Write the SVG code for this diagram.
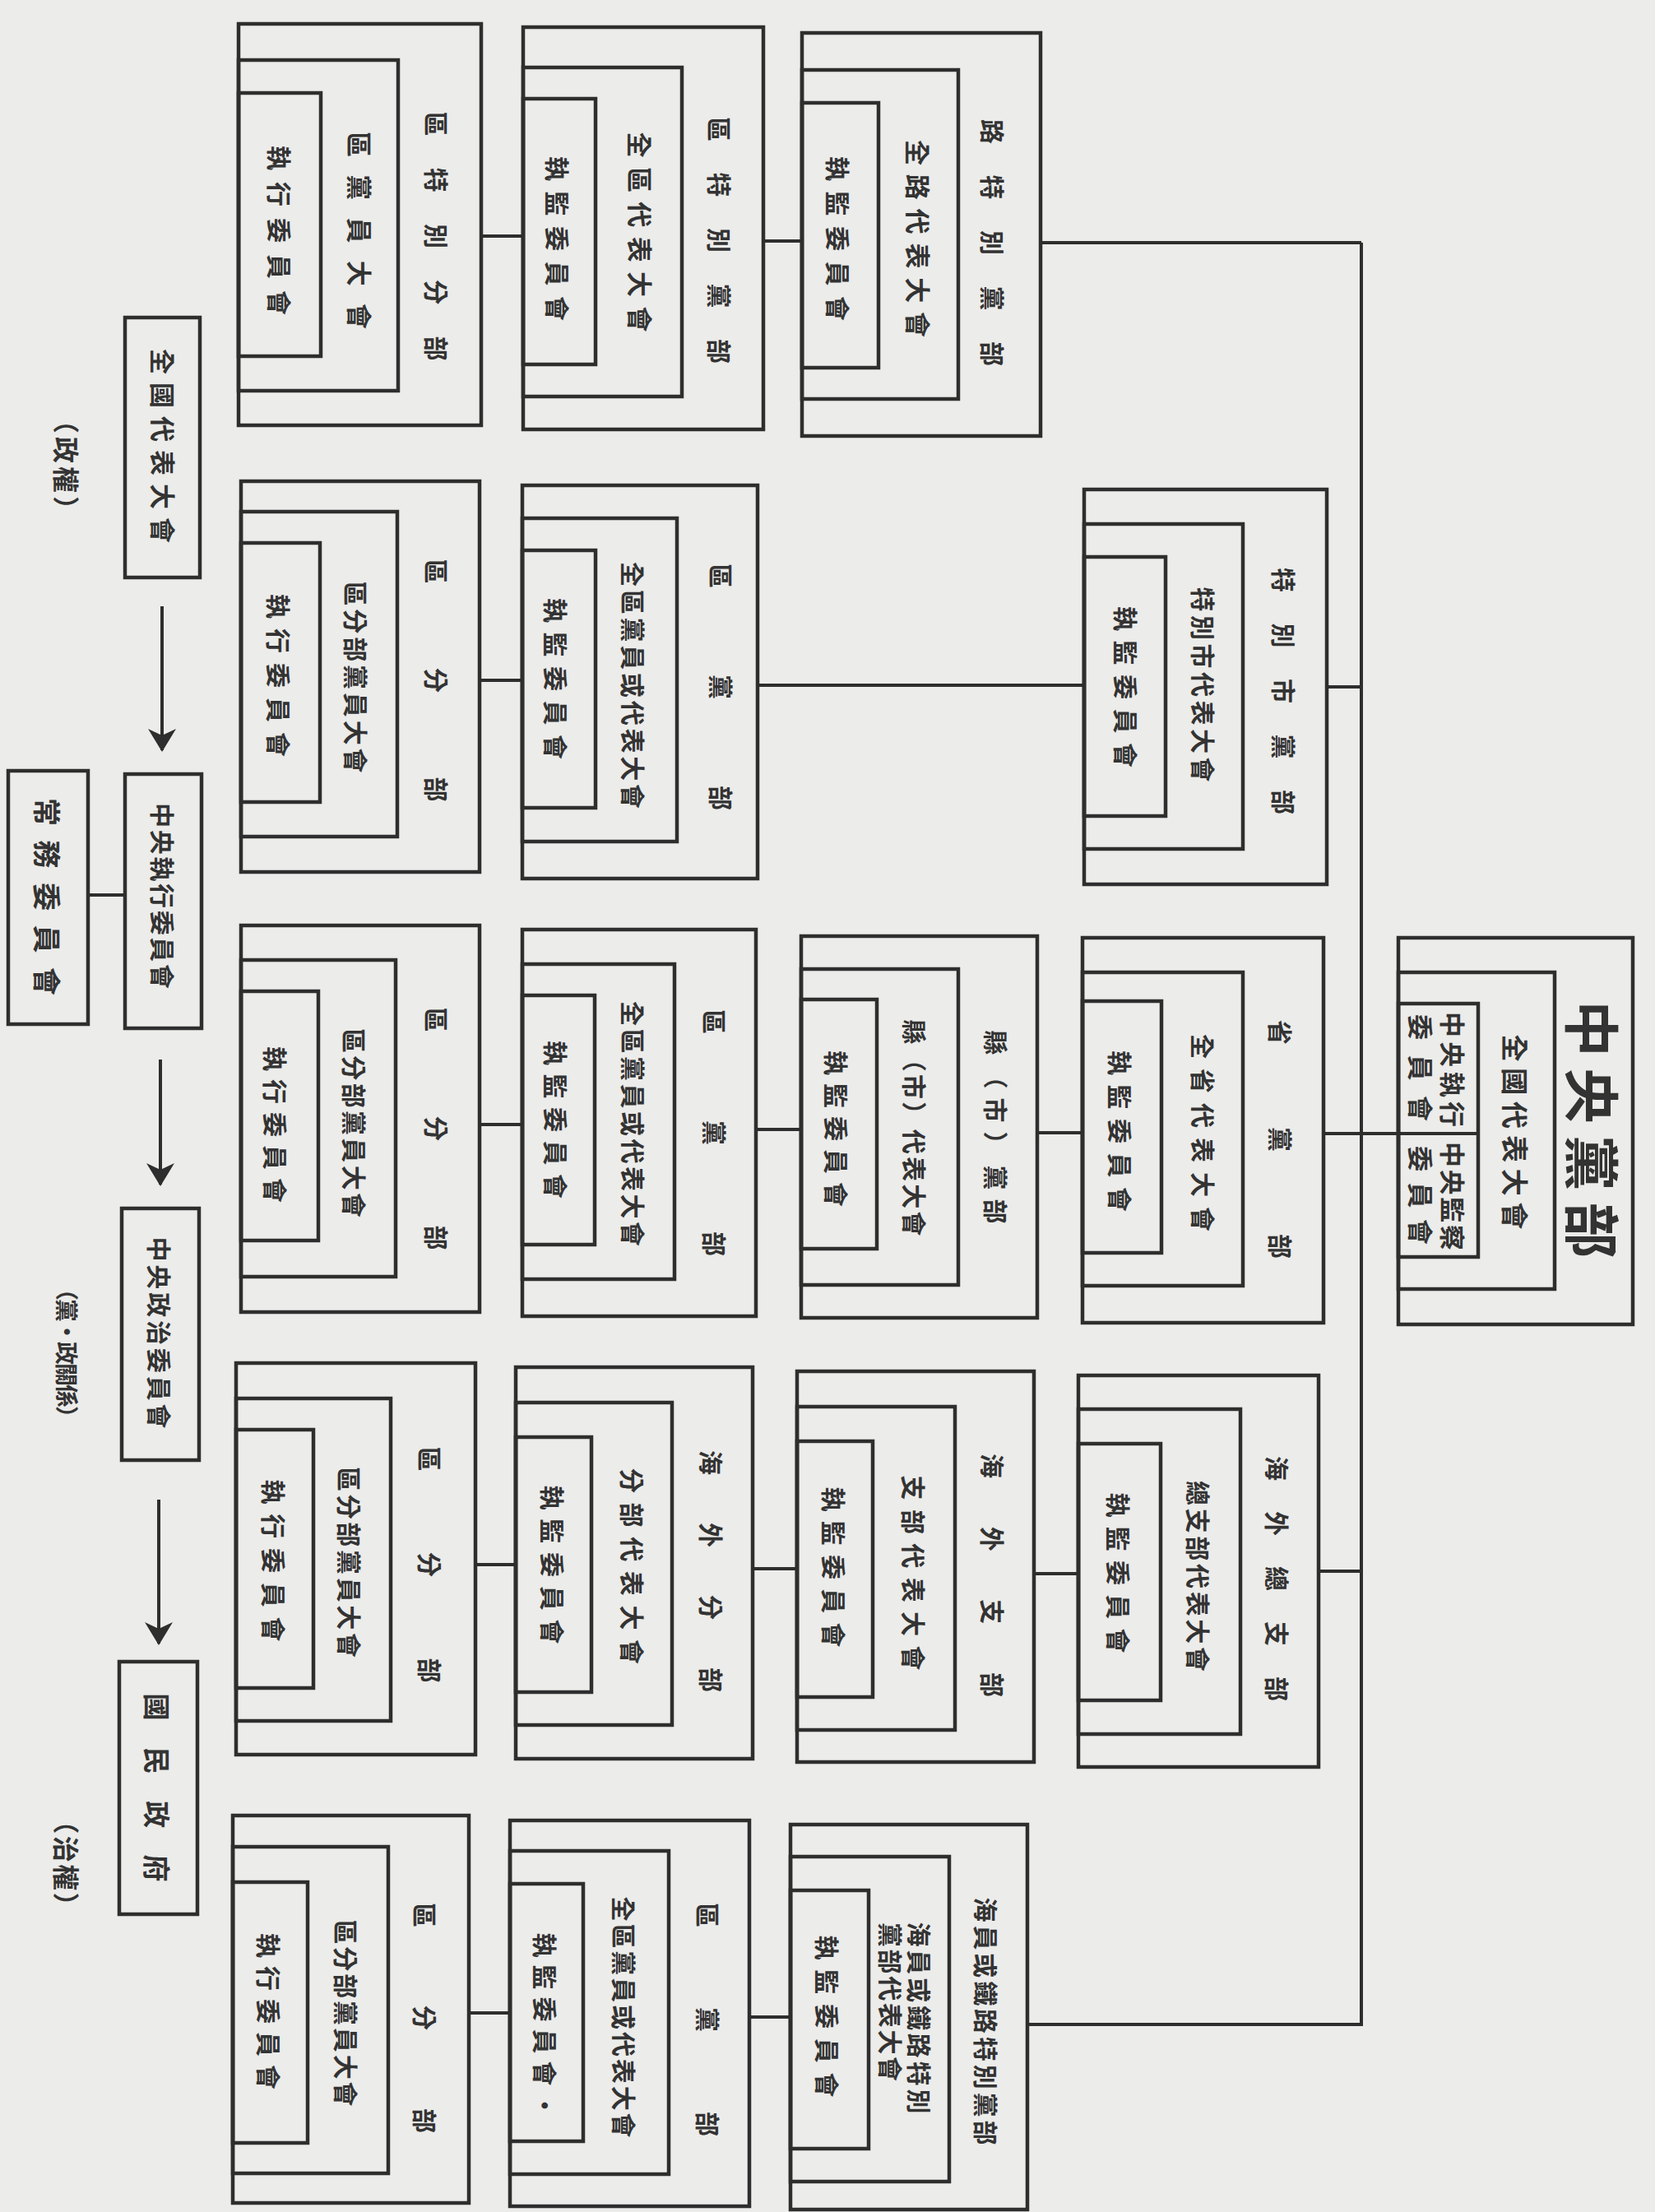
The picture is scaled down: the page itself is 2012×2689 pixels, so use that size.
<svg xmlns="http://www.w3.org/2000/svg" width="2012" height="2689" viewBox="0 0 2012 2689">
<style>
.bg{fill:#ececea}
.b{fill:none;stroke:#2e2e2e;stroke-width:4.5}
.t{font-family:"Noto Sans CJK TC","Noto Sans CJK SC",sans-serif;font-weight:700;fill:#333;text-anchor:middle;dominant-baseline:central}
.s{font-family:"Noto Sans CJK TC","Noto Sans CJK SC",sans-serif;font-weight:700;fill:#333;text-anchor:start;dominant-baseline:central}
.c line{stroke:#2e2e2e;stroke-width:4}
</style>
<defs>
<marker id="ah2" markerWidth="28" markerHeight="34" refX="26" refY="17" orient="auto" markerUnits="userSpaceOnUse" viewBox="0 0 28 34">
<path d="M0,0 L28,17 L0,34 L8,17 z" fill="#2e2e2e"/>
</marker>
</defs>
<rect class="bg" x="0" y="0" width="2012" height="2689"/>

<g id="connectors" class="c">
<line x1="1655" y1="295" x2="1655" y2="2463"/>
<line x1="1265" y1="295" x2="1655" y2="295"/>
<line x1="585" y1="287" x2="636" y2="287"/>
<line x1="928" y1="293" x2="975" y2="293"/>
<line x1="583" y1="827" x2="635" y2="827"/>
<line x1="921" y1="833" x2="1318" y2="833"/>
<line x1="1613" y1="835" x2="1655" y2="835"/>
<line x1="583" y1="1367" x2="635" y2="1367"/>
<line x1="919" y1="1373" x2="974" y2="1373"/>
<line x1="1261" y1="1377" x2="1316" y2="1377"/>
<line x1="1609" y1="1378" x2="1797" y2="1378"/>
<line x1="578" y1="1902" x2="627" y2="1902"/>
<line x1="915" y1="1907" x2="969" y2="1907"/>
<line x1="1257" y1="1913" x2="1311" y2="1913"/>
<line x1="1603" y1="1910" x2="1655" y2="1910"/>
<line x1="570" y1="2447" x2="620" y2="2447"/>
<line x1="911" y1="2452" x2="961" y2="2452"/>
<line x1="1249" y1="2461" x2="1655" y2="2461"/>
<line x1="107" y1="1088" x2="152" y2="1088"/>
<line x1="197" y1="737" x2="197" y2="912" marker-end="url(#ah2)"/>
<line x1="195" y1="1288" x2="195" y2="1440" marker-end="url(#ah2)"/>
<line x1="193" y1="1823" x2="193" y2="1998" marker-end="url(#ah2)"/>
</g>

<g id="central">
<rect class="b" x="1700" y="1140" width="285" height="470"/>
<rect class="b" x="1700" y="1182" width="190" height="385"/>
<rect class="b" x="1700" y="1220" width="97" height="308"/>
<text class="t" transform="translate(1938,1373) rotate(90)" font-size="68" textLength="313" lengthAdjust="spacing">中央黨部</text>
<text class="t" transform="translate(1843,1376) rotate(90)" font-size="33" textLength="237" lengthAdjust="spacing">全國代表大會</text>
<text class="s" transform="translate(1767,1230) rotate(90)" font-size="31" textLength="140" lengthAdjust="spacing">中央執行</text>
<text class="s" transform="translate(1728,1233) rotate(90)" font-size="31" textLength="130" lengthAdjust="spacing">委員會</text>
<text class="s" transform="translate(1767,1388) rotate(90)" font-size="31" textLength="132" lengthAdjust="spacing">中央監察</text>
<text class="s" transform="translate(1728,1393) rotate(90)" font-size="31" textLength="120" lengthAdjust="spacing">委員會</text>
</g>

<g id="r1-special-district-subbranch">
<rect class="b" x="290" y="29" width="295" height="488"/>
<rect class="b" x="290" y="73" width="194" height="402"/>
<rect class="b" x="290" y="113" width="100" height="320"/>
<text class="t" transform="translate(532,287) rotate(90)" font-size="30" textLength="303" lengthAdjust="spacing">區特別分部</text>
<text class="t" transform="translate(438,280) rotate(90)" font-size="31" textLength="240" lengthAdjust="spacing">區黨員大會</text>
<text class="t" transform="translate(341,280) rotate(90)" font-size="30" textLength="206" lengthAdjust="spacing">執行委員會</text>
</g>
<g id="r1-special-district-branch">
<rect class="b" x="636" y="33" width="292" height="489"/>
<rect class="b" x="636" y="82" width="193" height="400"/>
<rect class="b" x="636" y="120" width="88" height="323"/>
<text class="t" transform="translate(876,292) rotate(90)" font-size="30" textLength="300" lengthAdjust="spacing">區特別黨部</text>
<text class="t" transform="translate(779,282) rotate(90)" font-size="31" textLength="243" lengthAdjust="spacing">全區代表大會</text>
<text class="t" transform="translate(679,290) rotate(90)" font-size="30" textLength="200" lengthAdjust="spacing">執監委員會</text>
</g>
<g id="r1-special-branch">
<rect class="b" x="975" y="40" width="290" height="490"/>
<rect class="b" x="975" y="85" width="190" height="400"/>
<rect class="b" x="975" y="125" width="93" height="322"/>
<text class="t" transform="translate(1208,295) rotate(90)" font-size="30" textLength="300" lengthAdjust="spacing">路特別黨部</text>
<text class="t" transform="translate(1117,290) rotate(90)" font-size="31" textLength="240" lengthAdjust="spacing">全路代表大會</text>
<text class="t" transform="translate(1020,290) rotate(90)" font-size="30" textLength="200" lengthAdjust="spacing">執監委員會</text>
</g>

<g id="r2-subbranch">
<rect class="b" x="293" y="585" width="290" height="475"/>
<rect class="b" x="293" y="622" width="190" height="395"/>
<rect class="b" x="293" y="660" width="96" height="315"/>
<text class="t" transform="translate(532,827) rotate(90)" font-size="30" textLength="295" lengthAdjust="spacing">區分部</text>
<text class="t" transform="translate(434,823) rotate(90)" font-size="30" textLength="233" lengthAdjust="spacing">區分部黨員大會</text>
<text class="t" transform="translate(340,821) rotate(90)" font-size="30" textLength="198" lengthAdjust="spacing">執行委員會</text>
</g>
<g id="r2-district">
<rect class="b" x="635" y="590" width="286" height="478"/>
<rect class="b" x="635" y="630" width="188" height="393"/>
<rect class="b" x="635" y="669" width="89" height="313"/>
<text class="t" transform="translate(878,835) rotate(90)" font-size="30" textLength="300" lengthAdjust="spacing">區黨部</text>
<text class="t" transform="translate(771,833) rotate(90)" font-size="30" textLength="300" lengthAdjust="spacing">全區黨員或代表大會</text>
<text class="t" transform="translate(677,825) rotate(90)" font-size="30" textLength="196" lengthAdjust="spacing">執監委員會</text>
</g>
<g id="r2-special-city">
<rect class="b" x="1318" y="595" width="295" height="480"/>
<rect class="b" x="1318" y="637" width="193" height="395"/>
<rect class="b" x="1318" y="677" width="99" height="315"/>
<text class="t" transform="translate(1562,840) rotate(90)" font-size="30" textLength="300" lengthAdjust="spacing">特別市黨部</text>
<text class="t" transform="translate(1464,832) rotate(90)" font-size="30" textLength="237" lengthAdjust="spacing">特別市代表大會</text>
<text class="t" transform="translate(1370,835) rotate(90)" font-size="30" textLength="196" lengthAdjust="spacing">執監委員會</text>
</g>

<g id="r3-subbranch">
<rect class="b" x="293" y="1125" width="290" height="470"/>
<rect class="b" x="293" y="1167" width="188" height="385"/>
<rect class="b" x="293" y="1205" width="94" height="303"/>
<text class="t" transform="translate(532,1372) rotate(90)" font-size="30" textLength="295" lengthAdjust="spacing">區分部</text>
<text class="t" transform="translate(432,1365) rotate(90)" font-size="30" textLength="230" lengthAdjust="spacing">區分部黨員大會</text>
<text class="t" transform="translate(336,1367) rotate(90)" font-size="30" textLength="190" lengthAdjust="spacing">執行委員會</text>
</g>
<g id="r3-district">
<rect class="b" x="635" y="1130" width="284" height="470"/>
<rect class="b" x="635" y="1172" width="185" height="383"/>
<rect class="b" x="635" y="1210" width="88" height="303"/>
<text class="t" transform="translate(870,1377) rotate(90)" font-size="30" textLength="300" lengthAdjust="spacing">區黨部</text>
<text class="t" transform="translate(771,1366) rotate(90)" font-size="30" textLength="298" lengthAdjust="spacing">全區黨員或代表大會</text>
<text class="t" transform="translate(677,1361) rotate(90)" font-size="30" textLength="192" lengthAdjust="spacing">執監委員會</text>
</g>
<g id="r3-county">
<rect class="b" x="974" y="1138" width="287" height="464"/>
<rect class="b" x="974" y="1178" width="191" height="384"/>
<rect class="b" x="974" y="1215" width="92" height="303"/>
<text class="t" transform="translate(1212,1370) rotate(90)" font-size="30" textLength="235" lengthAdjust="spacing">縣（市）黨部</text>
<text class="t" transform="translate(1113,1371) rotate(90)" font-size="30" textLength="263" lengthAdjust="spacing">縣（市）代表大會</text>
<text class="t" transform="translate(1018,1372) rotate(90)" font-size="30" textLength="190" lengthAdjust="spacing">執監委員會</text>
</g>
<g id="r3-province">
<rect class="b" x="1316" y="1140" width="293" height="468"/>
<rect class="b" x="1316" y="1182" width="195" height="381"/>
<rect class="b" x="1316" y="1217" width="96" height="306"/>
<text class="t" transform="translate(1558,1385) rotate(90)" font-size="30" textLength="290" lengthAdjust="spacing">省黨部</text>
<text class="t" transform="translate(1464,1377) rotate(90)" font-size="30" textLength="240" lengthAdjust="spacing">全省代表大會</text>
<text class="t" transform="translate(1363,1375) rotate(90)" font-size="30" textLength="196" lengthAdjust="spacing">執監委員會</text>
</g>

<g id="r4-subbranch">
<rect class="b" x="287" y="1657" width="291" height="476"/>
<rect class="b" x="287" y="1700" width="188" height="392"/>
<rect class="b" x="287" y="1738" width="94" height="314"/>
<text class="t" transform="translate(524,1902) rotate(90)" font-size="30" textLength="287" lengthAdjust="spacing">區分部</text>
<text class="t" transform="translate(426,1899) rotate(90)" font-size="30" textLength="232" lengthAdjust="spacing">區分部黨員大會</text>
<text class="t" transform="translate(334,1897) rotate(90)" font-size="30" textLength="197" lengthAdjust="spacing">執行委員會</text>
</g>
<g id="r4-overseas-sub">
<rect class="b" x="627" y="1662" width="288" height="476"/>
<rect class="b" x="627" y="1705" width="190" height="392"/>
<rect class="b" x="627" y="1747" width="92" height="310"/>
<text class="t" transform="translate(866,1910) rotate(90)" font-size="30" textLength="294" lengthAdjust="spacing">海外分部</text>
<text class="t" transform="translate(770,1904) rotate(90)" font-size="30" textLength="238" lengthAdjust="spacing">分部代表大會</text>
<text class="t" transform="translate(673,1902) rotate(90)" font-size="30" textLength="193" lengthAdjust="spacing">執監委員會</text>
</g>
<g id="r4-overseas-branch">
<rect class="b" x="969" y="1667" width="288" height="475"/>
<rect class="b" x="969" y="1710" width="192" height="393"/>
<rect class="b" x="969" y="1752" width="92" height="311"/>
<text class="t" transform="translate(1208,1915) rotate(90)" font-size="30" textLength="296" lengthAdjust="spacing">海外支部</text>
<text class="t" transform="translate(1112,1912) rotate(90)" font-size="30" textLength="237" lengthAdjust="spacing">支部代表大會</text>
<text class="t" transform="translate(1015,1905) rotate(90)" font-size="30" textLength="195" lengthAdjust="spacing">執監委員會</text>
</g>
<g id="r4-overseas-general">
<rect class="b" x="1311" y="1672" width="292" height="476"/>
<rect class="b" x="1311" y="1713" width="197" height="395"/>
<rect class="b" x="1311" y="1755" width="100" height="312"/>
<text class="t" transform="translate(1554,1919) rotate(90)" font-size="30" textLength="298" lengthAdjust="spacing">海外總支部</text>
<text class="t" transform="translate(1458,1916) rotate(90)" font-size="30" textLength="232" lengthAdjust="spacing">總支部代表大會</text>
<text class="t" transform="translate(1361,1912) rotate(90)" font-size="30" textLength="195" lengthAdjust="spacing">執監委員會</text>
</g>

<g id="r5-subbranch">
<rect class="b" x="283" y="2207" width="287" height="471"/>
<rect class="b" x="283" y="2245" width="189" height="397"/>
<rect class="b" x="283" y="2288" width="91" height="317"/>
<text class="t" transform="translate(518,2453) rotate(90)" font-size="30" textLength="280" lengthAdjust="spacing">區分部</text>
<text class="t" transform="translate(422,2447) rotate(90)" font-size="30" textLength="227" lengthAdjust="spacing">區分部黨員大會</text>
<text class="t" transform="translate(328,2445) rotate(90)" font-size="30" textLength="190" lengthAdjust="spacing">執行委員會</text>
</g>
<g id="r5-district">
<rect class="b" x="620" y="2213" width="291" height="469"/>
<rect class="b" x="620" y="2250" width="193" height="393"/>
<rect class="b" x="620" y="2290" width="89" height="313"/>
<text class="t" transform="translate(862,2455) rotate(90)" font-size="30" textLength="284" lengthAdjust="spacing">區黨部</text>
<text class="t" transform="translate(760,2452) rotate(90)" font-size="30" textLength="293" lengthAdjust="spacing">全區黨員或代表大會</text>
<text class="t" transform="translate(664,2462) rotate(90)" font-size="30" textLength="225" lengthAdjust="spacing">執監委員會・</text>
</g>
<g id="r5-seamen-railway">
<rect class="b" x="961" y="2218" width="288" height="468"/>
<rect class="b" x="961" y="2257" width="193" height="395"/>
<rect class="b" x="961" y="2298" width="95" height="314"/>
<text class="t" transform="translate(1200,2457) rotate(90)" font-size="30" textLength="301" lengthAdjust="spacing">海員或鐵路特別黨部</text>
<text class="t" transform="translate(1119,2453) rotate(90)" font-size="30" textLength="233" lengthAdjust="spacing">海員或鐵路特別</text>
<text class="s" transform="translate(1084,2337) rotate(90)" font-size="30" textLength="193" lengthAdjust="spacing">黨部代表大會</text>
<text class="t" transform="translate(1007,2451) rotate(90)" font-size="30" textLength="197" lengthAdjust="spacing">執監委員會</text>
</g>

<g id="l-national-congress">
<rect class="b" x="152" y="386" width="91" height="316"/>
<text class="t" transform="translate(199,542) rotate(90)" font-size="31" textLength="236" lengthAdjust="spacing">全國代表大會</text>
</g>
<g id="l-cec">
<rect class="b" x="152" y="941" width="93" height="309"/>
<text class="t" transform="translate(199,1089) rotate(90)" font-size="30" textLength="226" lengthAdjust="spacing">中央執行委員會</text>
</g>
<g id="l-standing">
<rect class="b" x="10" y="937" width="97" height="308"/>
<text class="t" transform="translate(58,1090) rotate(90)" font-size="34" textLength="240" lengthAdjust="spacing">常務委員會</text>
</g>
<g id="l-political">
<rect class="b" x="148" y="1469" width="94" height="306"/>
<text class="t" transform="translate(195,1620) rotate(90)" font-size="30" textLength="233" lengthAdjust="spacing">中央政治委員會</text>
</g>
<g id="l-government">
<rect class="b" x="145" y="2020" width="95" height="307"/>
<text class="t" transform="translate(192,2173) rotate(90)" font-size="33" textLength="229" lengthAdjust="spacing">國民政府</text>
</g>
<text class="t" transform="translate(82,565) rotate(90)" font-size="32" textLength="140" lengthAdjust="spacing">（政權）</text>
<text class="t" transform="translate(82,1645) rotate(90)" font-size="28" textLength="184" lengthAdjust="spacing">（黨・政關係）</text>
<text class="t" transform="translate(82,2265) rotate(90)" font-size="32" textLength="135" lengthAdjust="spacing">（治權）</text>
</svg>
